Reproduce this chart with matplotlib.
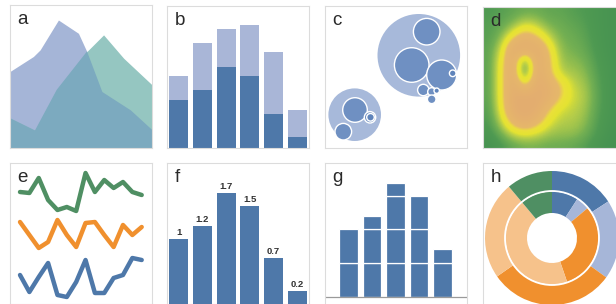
import numpy as np
import matplotlib.pyplot as plt
from matplotlib.patches import Circle
from matplotlib.colors import LinearSegmentedColormap

plt.rcParams['font.family'] = ['Liberation Sans', 'DejaVu Sans']

# ---- data ----
# a: two overlapping areas
a_blue_x = [0, 1.65, 2.12, 3.41, 4.82, 5.41, 6.47, 8.47, 10]
a_blue_y = [5.35, 6.4, 6.86, 8.95, 8.02, 6.74, 3.95, 2.67, 1.28]
a_green_x = [0, 1.76, 3.29, 5.41, 6.59, 8.0, 10]
a_green_y = [2.09, 1.23, 4.07, 6.74, 7.91, 6.28, 4.42]

# b: stacked bars
b_dark = [4.8, 5.8, 8.1, 7.2, 3.4, 1.1]
b_light = [2.4, 4.7, 3.8, 5.1, 6.2, 2.7]

# c: packed circles (panel pixels, y down), level 0 = outer
c_x = [93.8, 101.7, 86.7, 116.7, 127.7, 98.3, 106.7, 111.7, 106.7, 29.7, 30.0, 45.0, 45.5, 18.3]
c_y = [49.3, 25.7, 59.0, 69.0, 67.3, 84.0, 85.7, 84.7, 93.3, 108.7, 104.0, 111.3, 111.3, 125.7]
c_r = [41.3, 13.3, 17.3, 15.0, 3.3, 5.7, 4.0, 2.7, 4.3, 26.3, 12.3, 5.7, 3.8, 8.3]
c_level = [0, 1, 1, 1, 2, 1, 1, 2, 1, 0, 1, 1, 2, 1]

# d: heat field, coarse grid (rows top -> bottom)
d_grid = [
    [0.20, 0.22, 0.25, 0.28, 0.28, 0.25, 0.25, 0.22, 0.20, 0.16, 0.13, 0.12],
    [0.22, 0.25, 0.33, 0.45, 0.40, 0.30, 0.28, 0.25, 0.22, 0.16, 0.13, 0.12],
    [0.22, 0.32, 0.55, 0.72, 0.60, 0.42, 0.30, 0.28, 0.24, 0.17, 0.13, 0.12],
    [0.24, 0.42, 0.85, 0.85, 0.85, 0.58, 0.33, 0.30, 0.26, 0.18, 0.13, 0.12],
    [0.24, 0.50, 0.85, 0.18, 0.85, 0.65, 0.36, 0.34, 0.30, 0.20, 0.14, 0.12],
    [0.24, 0.52, 0.85, 0.10, 0.85, 0.65, 0.40, 0.38, 0.34, 0.22, 0.15, 0.12],
    [0.24, 0.52, 0.85, 0.50, 0.85, 0.75, 0.60, 0.42, 0.38, 0.24, 0.15, 0.12],
    [0.24, 0.52, 0.85, 0.85, 0.85, 0.80, 0.60, 0.44, 0.40, 0.25, 0.15, 0.12],
    [0.22, 0.50, 0.85, 0.85, 0.85, 0.60, 0.45, 0.42, 0.38, 0.24, 0.15, 0.12],
    [0.20, 0.42, 0.70, 0.85, 0.70, 0.48, 0.40, 0.40, 0.35, 0.22, 0.14, 0.12],
    [0.16, 0.30, 0.45, 0.50, 0.45, 0.38, 0.36, 0.36, 0.30, 0.20, 0.12, 0.10],
    [0.10, 0.18, 0.26, 0.30, 0.30, 0.28, 0.28, 0.26, 0.22, 0.15, 0.10, 0.10],
]

# e: three lines
e_green = [112, 111, 126, 104, 94, 97, 93, 131, 112, 124, 116, 122, 112, 109]
e_orange = [82, 69, 56, 62, 84, 69, 57, 81, 82, 69, 57, 79, 69, 77]
e_blue = [29, 12, 27, 41, 9, 7, 22, 44, 11, 11, 26, 29, 46, 44]

# f: labelled bars
f_vals = [1, 1.2, 1.7, 1.5, 0.7, 0.2]
f_labels = ['1', '1.2', '1.7', '1.5', '0.7', '0.2']

# g: segmented bars
g_stacks = [[1, 1], [1, 1, 0.4], [1, 1, 1, 0.38], [1, 1, 1], [1, 0.42]]

# h: two rings (degrees, clockwise from top)
h_outer = [57, 69, 109, 85, 40]
h_inner = [33, 17, 111, 159, 40]

BLUE = '#4e78a9'
LAV = '#a6b6d8'
ORANGE = '#f0902e'
PEACH = '#f6c28b'
GREEN = '#4f8f63'

W, H = 616, 304
fig = plt.figure(figsize=(W / 100, H / 100), dpi=100)


def panel(x, y, w, h):
    ax = fig.add_axes([x / W, 1 - (y + h) / H, w / W, h / H])
    ax.set_xticks([])
    ax.set_yticks([])
    for s in ax.spines.values():
        s.set_color('#dcdcdc')
        s.set_linewidth(0.8)
    return ax


def tag(ax, s):
    ax.annotate(s, xy=(0, 1), xycoords='axes fraction', xytext=(5.5, -4.5),
                textcoords='offset points', ha='left', va='top',
                fontsize=13.5, color='#2a2a2a', zorder=10)


# a
ax = panel(10, 5, 142, 143)
ax.fill_between(a_blue_x, a_blue_y, color='#a5b5d7', lw=0)
pg = ax.fill_between(a_green_x, a_green_y, color='#95c6c1', lw=0)
po = ax.fill_between(a_blue_x, a_blue_y, color='#7caabf', lw=0)
po.set_clip_path(pg.get_paths()[0], ax.transData)
ax.set_xlim(0, 10)
ax.set_ylim(0, 10)
tag(ax, 'a')

# b
ax = panel(167, 6, 142, 142)
bx = np.arange(len(b_dark))
ax.bar(bx, b_dark, width=0.8, color=BLUE)
ax.bar(bx, b_light, bottom=b_dark, width=0.8, color='#a9b6d7')
ax.set_xlim(-0.5, 5.5)
ax.set_ylim(0, 14.2)
tag(ax, 'b')

# c
ax = panel(325, 6, 142, 142)
fills = ['#a7b9da', '#6f90c2', '#5f84bb']
for x, y, r, lv in zip(c_x, c_y, c_r, c_level):
    ax.add_patch(Circle((x, y), r, facecolor=fills[lv],
                        edgecolor='white' if lv else 'none', lw=1.0))
ax.set_xlim(0, 142)
ax.set_ylim(142, 0)
tag(ax, 'c')

# d
ax = panel(483, 7, 142, 141)
cmap = LinearSegmentedColormap.from_list('heat', [
    (0.0, '#3d8b50'), (0.2, '#4f9a52'), (0.3, '#74b052'), (0.4, '#b3cc4a'),
    (0.47, '#e4e332'), (0.55, '#ebe03a'), (0.62, '#e6b86a'), (1.0, '#e2a674')])
ax.imshow(np.array(d_grid), cmap=cmap, vmin=0, vmax=1, interpolation='bicubic',
          interpolation_stage='data', extent=(0, 144, 144, 0), aspect='auto')
ax.set_xlim(0, 142)
ax.set_ylim(141, 0)
tag(ax, 'd')

# e
ax = panel(10, 163, 142, 141)
ex = np.arange(len(e_green))
for vals, col in [(e_green, GREEN), (e_orange, ORANGE), (e_blue, BLUE)]:
    ax.plot(ex, vals, color=col, lw=3.2, solid_joinstyle='round', solid_capstyle='round')
ax.set_xlim(-1.07, 14.1)
ax.set_ylim(0, 141)
tag(ax, 'e')

# f
ax = panel(167, 163, 142, 141)
fx = np.arange(len(f_vals))
ax.bar(fx, f_vals, width=0.8, color=BLUE, zorder=3)
for i, (v, lbl) in enumerate(zip(f_vals, f_labels)):
    ax.annotate(lbl, (i, v), xytext=(0, 1.5), textcoords='offset points',
                ha='center', va='bottom', fontsize=6.8, fontweight='bold', color='#333333')
ax.set_xlim(-0.5, 5.5)
ax.set_ylim(0, 141 / 65.2)
tag(ax, 'f')

# g
ax = panel(325, 163, 142, 142)
for i, segs in enumerate(g_stacks):
    bottom = 0
    for s in segs:
        ax.bar(i, s, bottom=bottom, width=0.8, color=BLUE, edgecolor='white', lw=0.9)
        bottom += s
ax.axhline(0, color='#9a9a9a', lw=0.9)
ax.set_xlim(-1, 5.04)
ax.set_ylim(-0.25, 3.97)
tag(ax, 'g')

# h
ax = panel(483, 163, 142, 142)
ring_cols = [BLUE, LAV, ORANGE, PEACH, GREEN]
ax.pie(h_outer, radius=67, colors=ring_cols, startangle=90, counterclock=False,
       wedgeprops=dict(width=20, linewidth=0), frame=True)
ax.pie(h_inner, radius=46.5, colors=ring_cols, startangle=90, counterclock=False,
       wedgeprops=dict(width=21.5, linewidth=0), frame=True)
ax.add_patch(Circle((0, 0), 47, facecolor='none', edgecolor='white', lw=1.3))
ax.set_xlim(-69, 73)
ax.set_ylim(-67, 75)
ax.set_xticks([])
ax.set_yticks([])
tag(ax, 'h')

fig.savefig('out.png', dpi=100, facecolor='white')
